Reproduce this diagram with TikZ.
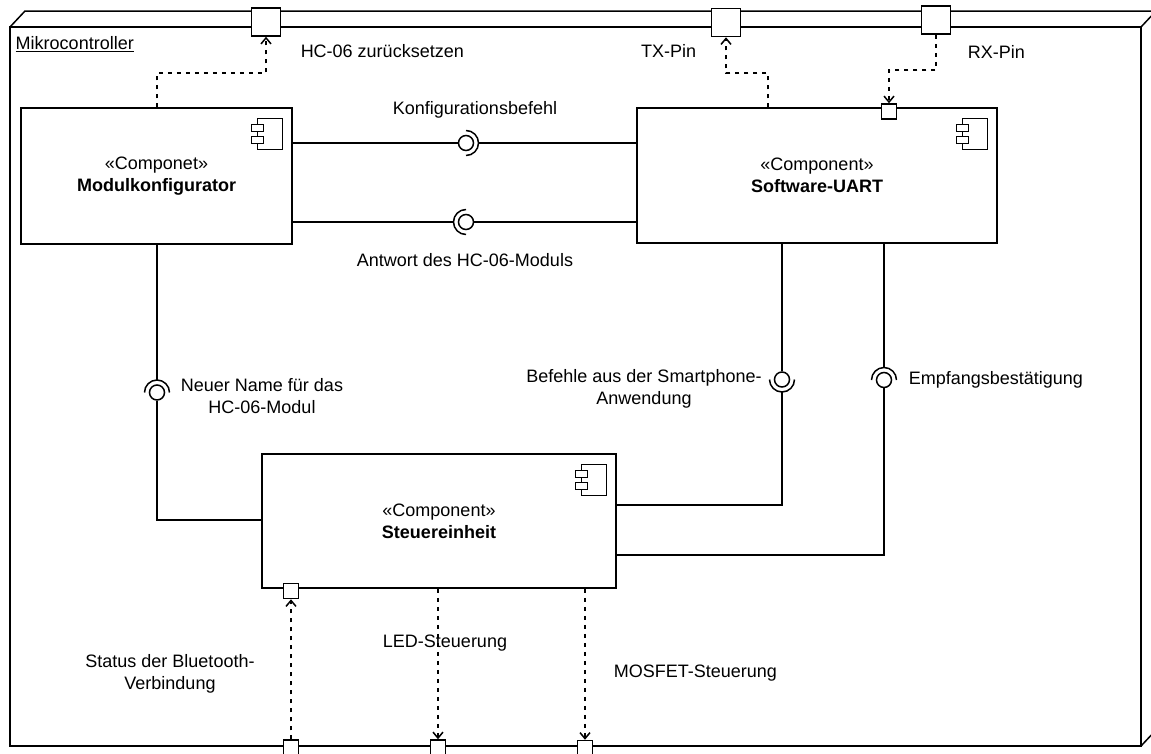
\documentclass[tikz,border=0pt]{standalone}
\usepackage{fontspec}
\setmainfont{Liberation Sans}
\usetikzlibrary{arrows.meta,calc}
\newcommand{\compicon}[1]{%
  \draw[line width=1.2pt,fill=white] ($(#1.north east)+(-35,11)$) rectangle ($(#1.north east)+(-10,42)$);
  \draw[line width=1.2pt,fill=white] ($(#1.north east)+(-41,17)$) rectangle +(12,7);
  \draw[line width=1.2pt,fill=white] ($(#1.north east)+(-41,29)$) rectangle +(12,7);
}
\begin{document}
\begin{tikzpicture}[x=1pt,y=-1pt,line width=1.5pt,
  font=\fontsize{18}{21.6}\selectfont,
  comp/.style={draw,fill=white,inner sep=0pt,align=center},
  bigport/.style={draw,fill=white,inner sep=0pt,minimum width=29pt,minimum height=28pt},
  smallport/.style={draw,fill=white,inner sep=0pt,minimum size=15pt},
  ball/.style={draw,circle,inner sep=0pt,minimum size=15pt},
  dep/.style={dash pattern=on 4.5pt off 4.5pt,-{Straight Barb[length=6pt,width=10pt]}},
  lbl/.style={inner sep=0pt,align=center}]
\useasboundingbox (0,0) rectangle (1151,753);
% outer 3D node
\draw (10,27) rectangle (1141,746);
\draw (10,27) -- (25,11) -- (1156,11) -- (1156,730) -- (1141,746);
\draw (1141,27) -- (1156,11);
\node[lbl,anchor=west] at (15,44) {\underline{Mikrocontroller}};
% ports on outer box
\node[bigport] (p1) at (266,22) {};
\node[bigport] (ptx) at (726,22.5) {};
\node[bigport] (prx) at (936,20) {};
\node[smallport] (pb1) at (291,747.5) {};
\node[smallport] (pb2) at (438,747.5) {};
\node[smallport] (pb3) at (585,748) {};
% components
\node[comp,minimum width=271pt,minimum height=136pt] (mk) at (156.5,176) {«Componet»\\\textbf{Modulkonfigurator}};
\node[comp,minimum width=360pt,minimum height=135pt] (uart) at (817,175.5) {«Component»\\\textbf{Software-UART}};
\node[comp,minimum width=354pt,minimum height=134pt] (st) at (439,521) {«Component»\\\textbf{Steuereinheit}};
\compicon{mk}
\compicon{uart}
\compicon{st}
\node[smallport] (puart) at (889,111.5) {};
\node[smallport] (pst) at (291,591) {};
% dependencies
\draw[dep] (mk.north -| 157,0) -- (157,73) -| (p1.south);
\draw[dep] (uart.north -| 768,0) -- (768,73) -| (ptx.south);
\draw[dep] (prx.south) -- (936,70) -| (puart.north);
\draw[dep] (st.south -| 438,0) -- (pb2.north);
\draw[dep] (st.south -| 585,0) -- (pb3.north);
\draw[dep] (pb1.north) -- (pst.south);
% interfaces (arc angles are page angles)
\node[ball] (b1) at (466,143) {};
\coordinate (s1) at (478.5,143);
\draw ($(b1.center)+(0,12.5)$) arc[start angle=-90,end angle=90,radius=12.5pt];
\draw (mk.east |- 0,143) -- (b1.west);
\draw (s1) -- (uart.west |- 0,143);
\node[ball] (b2) at (466,222) {};
\coordinate (s2) at (453.5,222);
\draw ($(b2.center)+(0,-12.5)$) arc[start angle=90,end angle=270,radius=12.5pt];
\draw (mk.east |- 0,222) -- (s2);
\draw (b2.east) -- (uart.west |- 0,222);
\node[ball] (b3) at (157,392.5) {};
\coordinate (s3) at (157,380);
\draw ($(b3.center)+(12.5,0)$) arc[start angle=0,end angle=180,radius=12.5pt];
\draw (mk.south -| 157,0) -- (s3);
\draw (b3.south) |- (st.west |- 0,520);
\node[ball] (b4) at (782,379.5) {};
\coordinate (s4) at (782,392);
\draw ($(b4.center)+(-12.5,0)$) arc[start angle=180,end angle=360,radius=12.5pt];
\draw (uart.south -| 782,0) -- (b4.north);
\draw (s4) |- (st.east |- 0,505);
\node[ball] (b5) at (884,380) {};
\coordinate (s5) at (884,367.5);
\draw ($(b5.center)+(12.5,0)$) arc[start angle=0,end angle=180,radius=12.5pt];
\draw (uart.south -| 884,0) -- (s5);
\draw (b5.south) |- (st.east |- 0,555);
% labels
\node[lbl,anchor=west] at (300,51) {HC-06 zurücksetzen};
\node[lbl] at (668.5,51) {TX-Pin};
\node[lbl,anchor=west] at (967,52) {RX-Pin};
\node[lbl] at (475,110) {Konfigurationsbefehl};
\node[lbl] at (465,260) {Antwort des HC-06-Moduls};
\node[lbl] at (262,396) {Neuer Name für das\\HC-06-Modul};
\node[lbl] at (644,389) {Befehle aus der Smartphone-\\Anwendung};
\node[lbl,anchor=west] at (908,380) {Empfangsbestätigung};
\node[lbl] at (445,643) {LED-Steuerung};
\node[lbl,anchor=west] at (613,673) {MOSFET-Steuerung};
\node[lbl] at (170,674) {Status der Bluetooth-\\Verbindung};
\end{tikzpicture}
\end{document}
